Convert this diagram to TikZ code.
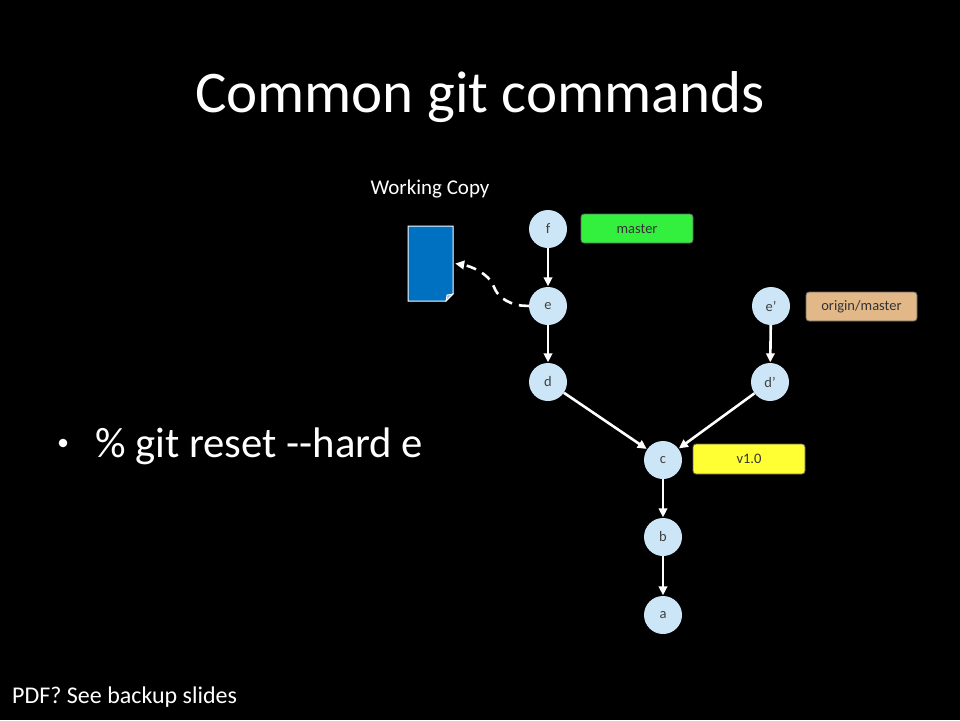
\documentclass[tikz,border=0pt]{standalone}
\usepackage{fontspec}
\setmainfont{Carlito}
\usetikzlibrary{arrows.meta}
\definecolor{nodefill}{HTML}{CCE6F7}
\definecolor{masterg}{HTML}{33F03F}
\definecolor{origint}{HTML}{E2B888}
\definecolor{tagy}{HTML}{FFFF33}
\definecolor{docblue}{HTML}{0070C0}
\definecolor{foldblue}{HTML}{9CCBEA}
\tikzset{
  commit/.style={circle, fill=nodefill, minimum size=38pt, inner sep=0pt, font=\fontsize{14.5}{16}\selectfont, text=black!75},
  tagbox/.style={rounded corners=3pt, draw=black!60, line width=0.8pt, minimum width=112pt, minimum height=29pt, inner sep=0pt, font=\fontsize{14.5}{16}\selectfont, text=black!80},
  edge/.style={draw=white, line width=2.6pt, -{Triangle[length=9pt,width=8.5pt]}, shorten >=0.5pt},
  dashedge/.style={draw=white, line width=2.6pt, dash pattern=on 10pt off 7pt, -{Triangle[length=9pt,width=8.5pt]}}
}
\begin{document}
\begin{tikzpicture}[x=1pt,y=-1pt]
\fill[black] (0,0) rectangle (960,720);
\useasboundingbox (0,0) rectangle (960,720);
% title
\node[anchor=base, text=white, font=\fontsize{59}{70}\selectfont, inner sep=0pt] (title) at (480,112) {Common git commands};
% bullet
\fill[white] (63,443) circle (4.3pt);
\node[anchor=base west, text=white, font=\fontsize{42.7}{50}\selectfont, inner sep=0pt] (cmd) at (95,457) {\% git reset -{}-hard e};
% footer
\node[anchor=base west, text=white, font=\fontsize{24}{28}\selectfont, inner sep=0pt] (footer) at (12,703) {PDF? See backup slides};
% working copy
\node[anchor=base, text=white, font=\fontsize{21}{25}\selectfont, inner sep=0pt] (wclabel) at (430,194) {Working Copy};
% document icon
\node[draw=none, minimum width=45pt, minimum height=75pt, inner sep=0pt] (doc) at (430.5,263.5) {};
\fill[docblue, draw=white, line width=1pt] (408,226) -- (453,226) -- (453,294) -- (446,301) -- (408,301) -- cycle;
\fill[foldblue, draw=white, line width=0.8pt] (453,294) -- (447,295) -- (446,301) -- cycle;
% commits
\node[commit] (f) at (548,229) {f};
\node[commit] (e) at (548,306) {e};
\node[commit] (d) at (548,382) {d};
\node[commit] (ep) at (771,306) {e’};
\node[commit] (dp) at (770,382) {d’};
\node[commit] (c) at (663,460) {c};
\node[commit] (b) at (663,537) {b};
\node[commit] (a) at (663,615) {a};
% tags
\node[tagbox, fill=masterg] (master) at (637,228.5) {master};
\node[tagbox, fill=origint, minimum width=111pt] (origin) at (861.5,306.5) {origin/master};
\node[tagbox, fill=tagy, minimum width=112pt, minimum height=30pt] (v10) at (749,459) {v1.0};
% edges
\draw[edge] (f) -- (e);
\draw[edge] (e) -- (d);
\draw[edge] (ep) -- (dp);
\draw[edge] (d) -- (c);
\draw[edge] (dp) -- (c);
\draw[edge] (c) -- (b);
\draw[edge] (b) -- (a);
% dashed arrow to working copy
\coordinate (wctip) at ([xshift=2pt]doc.east);
\draw[dashedge] (e.west) -- ++(-8,-0.5) .. controls (505,303) and (497,295) .. (494,287) .. controls (489,273) and (470,266) .. (wctip);
\end{tikzpicture}
\end{document}
